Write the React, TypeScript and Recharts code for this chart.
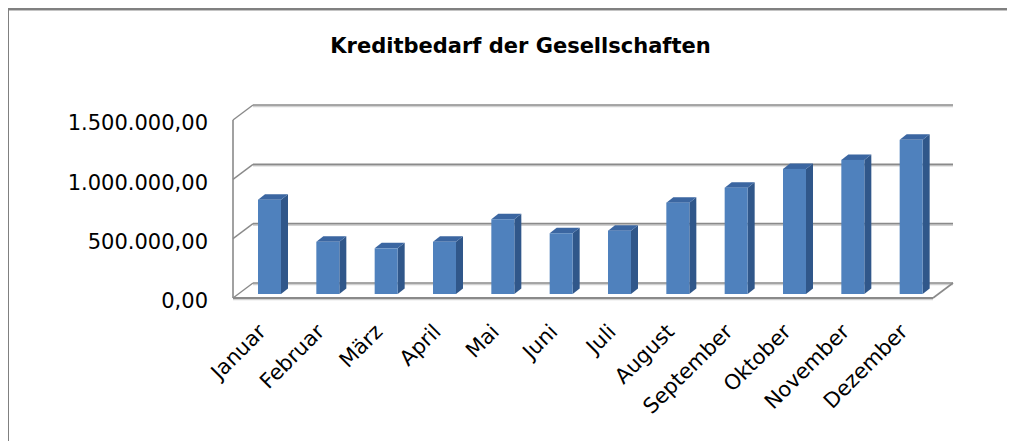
import { BarChart, Bar, XAxis, YAxis, CartesianGrid } from 'recharts'

const months = ['Januar', 'Februar', 'März', 'April', 'Mai', 'Juni', 'Juli', 'August', 'September', 'Oktober', 'November', 'Dezember']
const kredit = [795000, 440000, 385000, 440000, 630000, 512000, 534000, 770000, 896000, 1054000, 1130000, 1299000]
const yTicks = [0, 500000, 1000000, 1500000]

const data = months.map((name, i) => ({ name, value: kredit[i] }))

const W = 1007
const H = 433
// 3D offsets relative to the bar plane
const BACK = { dx: 13, dy: -11 }
const FRONT = { dx: -7, dy: 4 }
const GRID = '#8a8a8a'
const SHADOW = '#d2d2d2'
const FONT = '"DejaVu Sans", sans-serif'

// 1500000 -> 1.500.000,00
function fmt(v: number) {
  const [int, dec] = v.toFixed(2).split('.')
  return int.replace(/\B(?=(\d{3})+(?!\d))/g, '.') + ',' + dec
}

function Bar3D(props: any) {
  const { x, y, width, height } = props
  if (height == null || height <= 0) return null
  const d = 7
  const e = 5.5
  const r = x + width
  return (
    <g>
      <path d={`M${r},${y} L${r + d},${y - e} L${r + d},${y + height - e} L${r},${y + height} Z`} fill="#30578a" />
      <path d={`M${x},${y} L${x + d},${y - e} L${r + d},${y - e} L${r},${y} Z`} fill="#3b66a1" />
      <rect x={x} y={y} width={width} height={height} fill="#4f81bd" />
    </g>
  )
}

function GridLine(props: any) {
  const { x1, x2, y1, index, y, height } = props
  const bottom = y + height
  const isFloor = Math.abs(y1 - bottom) < 0.5
  const bx1 = x1 + BACK.dx
  const bx2 = x2 + BACK.dx
  const by = y1 + BACK.dy
  const fx = x1 + FRONT.dx
  const fy = y1 + FRONT.dy
  return (
    <g key={`grid-${index}`}>
      <line x1={bx1} y1={by + 1.5} x2={bx2} y2={by + 1.5} stroke={SHADOW} strokeWidth={1.5} />
      <line x1={bx1} y1={by} x2={bx2} y2={by} stroke={GRID} strokeWidth={1.6} />
      <line x1={fx} y1={fy} x2={bx1} y2={by} stroke={GRID} strokeWidth={1.4} />
      {isFloor && (
        <g>
          <line x1={fx} y1={y + FRONT.dy} x2={fx} y2={bottom + FRONT.dy} stroke={GRID} strokeWidth={1.6} />
          <line x1={fx} y1={bottom + FRONT.dy + 1.5} x2={x2 + FRONT.dx} y2={bottom + FRONT.dy + 1.5} stroke={SHADOW} strokeWidth={1.5} />
          <line x1={fx} y1={bottom + FRONT.dy} x2={x2 + FRONT.dx} y2={bottom + FRONT.dy} stroke={GRID} strokeWidth={2} />
          <line x1={x2 + FRONT.dx} y1={bottom + FRONT.dy} x2={bx2} y2={by} stroke={GRID} strokeWidth={1.6} />
        </g>
      )}
    </g>
  )
}

function YTick(props: any) {
  const { y, payload } = props
  return (
    <text x={200} y={y + 14.4} textAnchor="end" fontFamily={FONT} fontSize={21} fill="#000">
      {fmt(payload.value)}
    </text>
  )
}

function XTick(props: any) {
  const { x, y, payload } = props
  const tx = x - 2
  const ty = y + 31
  return (
    <text x={tx} y={ty} textAnchor="end" transform={`rotate(-45, ${tx}, ${ty})`} fontFamily={FONT} fontSize={21} fill="#000">
      {payload.value}
    </text>
  )
}

export default function App() {
  return (
    <div style={{ position: 'relative', width: W, height: H, background: '#fff' }}>
      <div style={{ position: 'absolute', left: -1, top: 0, width: W + 1, height: 2, background: '#808080' }} />
      <div style={{ position: 'absolute', left: -1, top: 2, width: W + 1, height: 1, background: '#c4c4c4' }} />
      <div style={{ position: 'absolute', left: -1, top: 0, width: 2, height: H, background: '#808080' }} />
      <div
        style={{
          position: 'absolute', left: 0, top: 28, width: 1025, textAlign: 'center',
          fontFamily: FONT, fontWeight: 'bold', fontSize: 21, lineHeight: '21px', color: '#000',
        }}
      >
        Kreditbedarf der Gesellschaften
      </div>
      <BarChart width={W} height={H} data={data} margin={{ top: 108, right: 75, bottom: 0, left: 0 }}>
        <CartesianGrid vertical={false} horizontal={GridLine} />
        <XAxis dataKey="name" interval={0} height={147} axisLine={false} tickLine={false} tick={<XTick />} />
        <YAxis
          width={232}
          domain={[0, 1500000]}
          ticks={yTicks}
          interval={0}
          axisLine={false}
          tickLine={false}
          tick={<YTick />}
        />
        <Bar dataKey="value" barSize={23} shape={Bar3D} isAnimationActive={false} />
      </BarChart>
    </div>
  )
}
